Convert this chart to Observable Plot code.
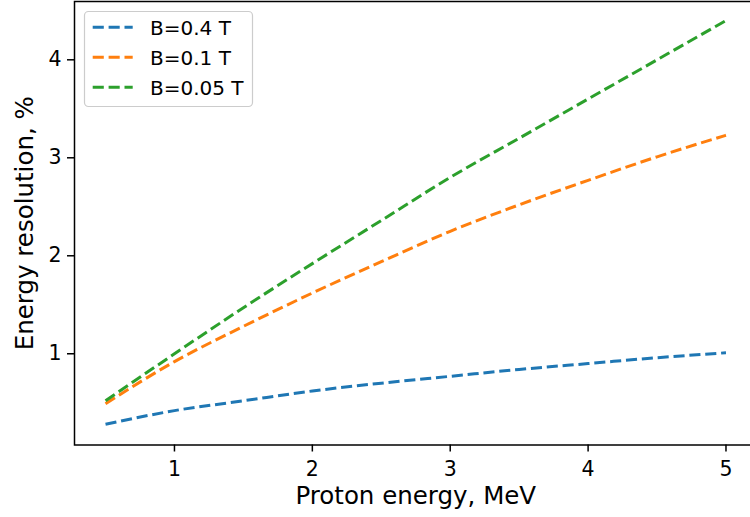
<!DOCTYPE html>
<html>
<head>
<meta charset="utf-8">
<script src="https://cdn.jsdelivr.net/npm/d3@7"></script>
<script src="https://cdn.jsdelivr.net/npm/@observablehq/plot@0.6"></script>
<style>
  html, body { margin: 0; padding: 0; background: #fff; }
  #chart svg { display: block; }
</style>
</head>
<body>
<div id="chart"></div>
<script>
// ---- data ----
const energy = [0.5, 1, 1.5, 2, 2.5, 3, 3.5, 4, 4.5, 5];          // MeV
const seriesNames = ["B=0.4 T", "B=0.1 T", "B=0.05 T"];
const res04  = [0.28, 0.42, 0.52, 0.62, 0.70, 0.77, 0.84, 0.90, 0.96, 1.01];
const res01  = [0.49, 0.92, 1.28, 1.62, 1.94, 2.25, 2.52, 2.77, 3.01, 3.23];
const res005 = [0.52, 1.00, 1.47, 1.92, 2.36, 2.80, 3.20, 3.60, 4.00, 4.40];
const seriesColors = ["#1f77b4", "#ff7f0e", "#2ca02c"];
const xTicks = [1, 2, 3, 4, 5];
const yTicks = [1, 2, 3, 4];
const xLabel = "Proton energy, MeV";
const yLabel = "Energy resolution, %";

const allSeries = [res04, res01, res005];
const rows = [];
allSeries.forEach((vals, s) => vals.forEach((v, i) => rows.push({E: energy[i], v, series: seriesNames[s]})));

const FONT = "DejaVu Sans, sans-serif";
const LW = 3;
const dash = "11.1,4.8";

const chart = Plot.plot({
  width: 750,
  height: 517,
  marginLeft: 74,
  marginRight: -6.5,
  marginTop: 1,
  marginBottom: 72.5,
  style: {fontFamily: FONT, fontSize: "18px", color: "#000", background: "#fff", overflow: "hidden"},
  x: {domain: [0.275, 5.225], axis: null},
  y: {domain: [0.069, 4.595], axis: null},
  color: {domain: seriesNames, range: seriesColors},
  marks: [
    Plot.line(rows, {x: "E", y: "v", z: "series", stroke: "series", strokeWidth: LW,
      strokeDasharray: dash, curve: "monotone-x", strokeLinecap: "butt"}),
    Plot.frame({stroke: "#000", strokeWidth: 1.5, strokeOpacity: 1}),
    Plot.axisX({ticks: xTicks, tickSize: 7, tickFormat: () => "", label: null, strokeWidth: 1.5, stroke: "#000"}),
    Plot.axisY({ticks: yTicks, tickSize: 7, tickFormat: () => "", label: null, strokeWidth: 1.5, stroke: "#000"}),
    // tick labels
    Plot.text(xTicks, {x: d => d, frameAnchor: "bottom", dy: 24, text: d => String(d), fontSize: 20.5, lineAnchor: "middle", textAnchor: "middle", fill: "#000"}),
    Plot.text(yTicks, {y: d => d, frameAnchor: "left", dx: -13, text: d => String(d), fontSize: 20.5, lineAnchor: "middle", textAnchor: "end", fill: "#000"}),
    // axis labels
    Plot.text([xLabel], {frameAnchor: "bottom", dy: 51, text: d => d, fontSize: 24.5, lineAnchor: "middle", textAnchor: "middle", fill: "#000"}),
    Plot.text([yLabel], {frameAnchor: "left", dx: -49, text: d => d, fontSize: 24.5, rotate: -90, lineAnchor: "middle", textAnchor: "middle", fill: "#000"})
  ]
});

document.getElementById("chart").appendChild(chart);

// ---- legend drawn inside the plot's SVG (upper left) ----
const svg = d3.select(chart);
const lg = svg.append("g").attr("font-family", FONT).attr("font-size", 20).attr("text-anchor", "start");
lg.append("rect")
  .attr("x", 84.5).attr("y", 11.5).attr("width", 168).attr("height", 95)
  .attr("rx", 4).attr("fill", "#fff").attr("fill-opacity", 0.8)
  .attr("stroke", "#cccccc").attr("stroke-width", 1.2);
seriesNames.forEach((name, i) => {
  const cy = 27.3 + i * 30;
  lg.append("line").attr("x1", 92.7).attr("x2", 132.7).attr("y1", cy).attr("y2", cy)
    .attr("stroke", seriesColors[i]).attr("stroke-width", LW).attr("stroke-dasharray", dash);
  lg.append("text").attr("x", 150).attr("y", cy + 1).attr("dy", "0.35em")
    .attr("text-anchor", "start").attr("fill", "#000").text(name);
});
</script>
</body>
</html>
